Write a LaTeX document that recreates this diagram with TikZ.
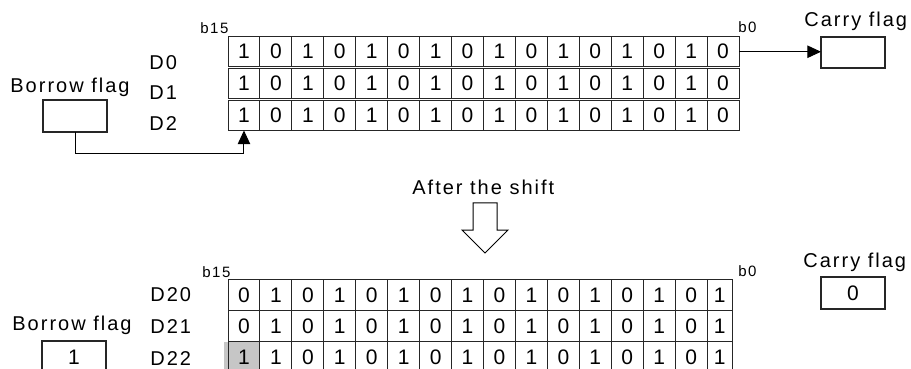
\documentclass[tikz,border=0pt]{standalone}
\usepackage{fontspec}
\setmainfont{Liberation Sans}[LetterSpace=10]
\usepackage{tikz}
\usetikzlibrary{arrows.meta}

\begin{document}
\begin{tikzpicture}[x=0.5pt,y=-0.5pt,
    cell/.style={draw=black!85,line width=0.5pt,inner sep=0pt,outer sep=0pt,anchor=north west,font=\fontsize{10.5}{12}\selectfont},
    flagbox/.style={draw=black!85,line width=0.6pt,inner sep=0pt,outer sep=0pt,anchor=north west,minimum width=32pt,minimum height=16pt,font=\fontsize{10.5}{12}\selectfont},
    lbl/.style={anchor=base west,inner sep=0pt,font=\fontsize{10}{12}\selectfont},
    bitlbl/.style={anchor=base west,inner sep=0pt,font=\fontsize{7.5}{9}\selectfont},
    flow/.style={-{Triangle[length=6.8pt,width=6.2pt]},line width=0.5pt}]
    \clip (0,0) rectangle (911,369);

    % Before the shift: D0 to D2
    \begin{scope}
        \node[lbl] (borrowtxt) at (10,92.7) {Borrow flag};
        \node[flagbox] (borrowbox) at (43,100) {};
        \foreach \r/\y in {0/69.3,1/100,2/130.7}
            \node[lbl] (reg\r) at (149,\y) {D\r};
        \node[bitlbl] (msb) at (200,33.3) {b15};
        \node[bitlbl] (lsb) at (738,33) {b0};
        \foreach \r/\rowy in {0/37,1/69,2/101}{
            \foreach \c [evaluate=\c as \x using {228+(\c-1)*31.94},
                         evaluate=\c as \b using {int(mod(\c,2))}] in {1,...,16}
                \node[cell,minimum width=15.97pt,minimum height=14.75pt] (t\r-\c) at (\x,\rowy) {\b};
        }
        \node[lbl] (carrytxt) at (804,27) {Carry flag};
        \node[flagbox,minimum height=15.5pt] (carrybox) at (821,37) {};
        \coordinate (turn) at (0,154);
        \draw[flow] (t0-16.east) -- (t0-16.east -| carrybox.west);
        \draw[flow] (borrowbox.south) |- (t2-1.south |- turn) -- (t2-1.south);
    \end{scope}

    % Shift arrow
    \node[lbl] (shifttxt) at (412,195) {After the shift};
    \draw[line width=0.5pt] (473,203) -- (497,203) -- (497,230) -- (508,230)
        -- (485,253) -- (462,230) -- (473,230) -- cycle;

    % After the shift: D20 to D22
    \begin{scope}
        \fill[gray!45] (224,341.9) rectangle (258,369);
        \node[lbl] (borrowtxt2) at (12,330.7) {Borrow flag};
        \node[flagbox] (borrowbox2) at (42,341) {1};
        \foreach \r/\y in {0/301.7,1/333.3,2/365}
            \node[lbl] (reg2\r) at (150,\y) {D2\r};
        \node[bitlbl] (msb2) at (202,277.3) {b15};
        \node[bitlbl] (lsb2) at (738,276) {b0};
        \foreach \r/\rowy in {0/279.3,1/310.6,2/341.9}{
            \foreach \c [evaluate=\c as \x using {228+(\c-1)*31.94},
                         evaluate=\c as \w using {ifthenelse(\c<16,15.97,12.5)},
                         evaluate=\c as \b using {int(1-mod(\c,2))}] in {1,...,16}
                \node[cell,minimum width=\w pt,minimum height=15.65pt] (u\r-\c) at (\x,\rowy) {\b};
        }
        \node[cell,minimum width=15.97pt,minimum height=15.65pt,fill=gray!45] (u2-1) at (228,341.9) {1};
        \node[lbl] (carrytxt2) at (803,267) {Carry flag};
        \node[flagbox] (carrybox2) at (821,277) {0};
    \end{scope}
\end{tikzpicture}
\end{document}
